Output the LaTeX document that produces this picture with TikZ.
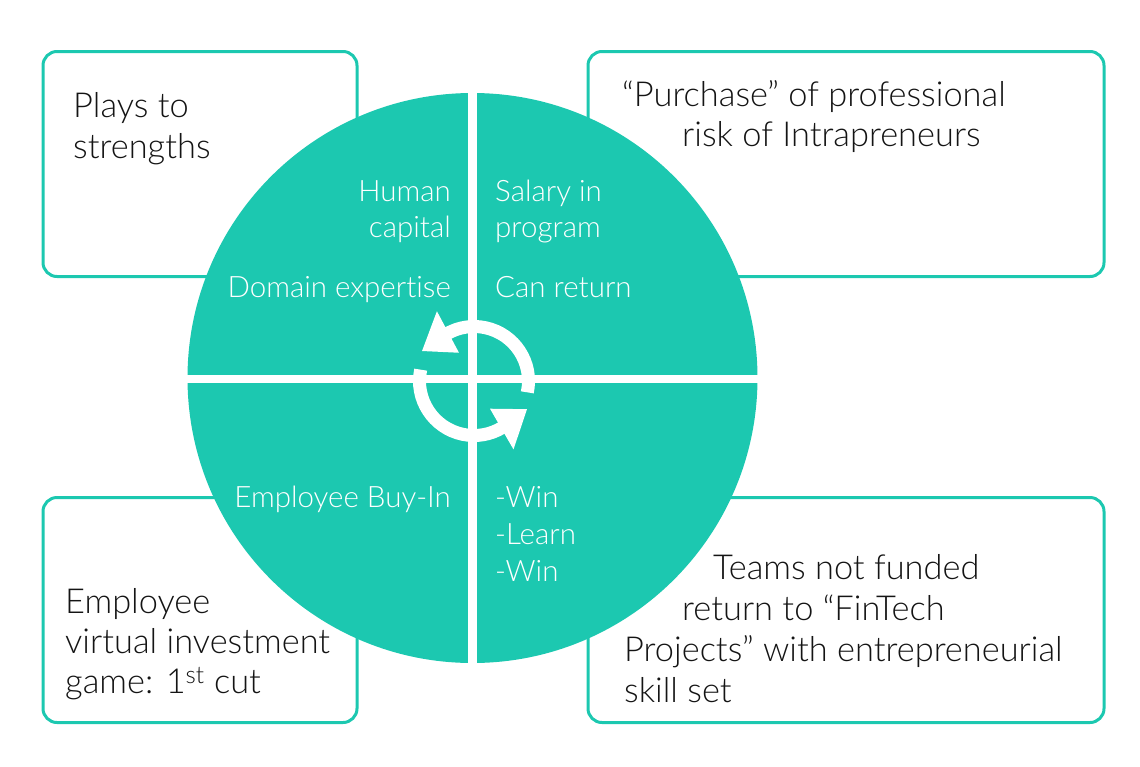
\documentclass[tikz,border=0pt]{standalone}
\usepackage{fontspec}
\setmainfont{Lato Light}[Ligatures=NoCommon]
\definecolor{teal1}{RGB}{28,200,176}
\definecolor{txt}{RGB}{20,20,20}
\tikzset{
  box/.style={draw=teal1, line width=3pt, rounded corners=14pt, fill=white, inner sep=0pt},
  btxt/.style={font=\fontsize{34.4}{41}\selectfont, text=txt, inner sep=0pt},
  ctxt/.style={font=\fontsize{29.5}{36}\selectfont, text=white, inner sep=0pt},
  ringarc/.style={draw=white, line width=13pt},
  ringhead/.style={fill=white},
  crossline/.style={draw=white, line width=8.5pt},
}
\begin{document}
\begin{tikzpicture}[x=1pt,y=1pt]
\useasboundingbox (0,0) rectangle (1140,-766);
% boxes
\node[box, minimum width=314pt, minimum height=225pt] (tl) at (200,-164) {};
\node[box, minimum width=516pt, minimum height=225pt] (tr) at (846,-164) {};
\node[box, minimum width=314pt, minimum height=225pt] (bl) at (200,-610) {};
\node[box, minimum width=516pt, minimum height=225pt] (br) at (846,-610) {};
% disc
\node[circle, fill=teal1, minimum size=570pt, inner sep=0pt] (disc) at (472.5,-378) {};
\begin{scope}
  \clip (disc.center) circle (286);
  \draw[crossline] (472.5,-80) -- (472.5,-680);
  \draw[crossline] (170,-379) -- (780,-379);
\end{scope}
% cycle arrows
\coordinate (c) at (474,-381);
\draw[ringarc] ([shift={(-12:54.5)}]c) arc[start angle=-12, end angle=119, radius=54.5];
\fill[ringhead] ([shift={(118:79)}]c) -- ([shift={(118:32)}]c) -- ([shift={(150:60)}]c) -- cycle;
\draw[ringarc] ([shift={(168:54.5)}]c) arc[start angle=168, end angle=301, radius=54.5];
\fill[ringhead] ([shift={(300:79)}]c) -- ([shift={(300:32)}]c) -- ([shift={(332:60)}]c) -- cycle;
% circle texts
\node[ctxt, anchor=base east] (h1) at (451,-201) {Human};
\node[ctxt, anchor=base east] (h2) at (451,-237) {capital};
\node[ctxt, anchor=base east] (h3) at (451,-297) {Domain expertise};
\node[ctxt, anchor=base west] (s1) at (495,-201) {Salary in};
\node[ctxt, anchor=base west] (s2) at (495,-237) {program};
\node[ctxt, anchor=base west] (s3) at (495,-297) {Can return};
\node[ctxt, anchor=base east] (e1) at (451,-507) {Employee Buy-In};
\node[ctxt, anchor=base west] (w1) at (495,-507) {-Win};
\node[ctxt, anchor=base west] (w2) at (495,-544) {-Learn};
\node[ctxt, anchor=base west] (w3) at (495,-581) {-Win};
% box texts
\node[btxt, anchor=base west] (p1) at (73,-117) {Plays to};
\node[btxt, anchor=base west] (p2) at (73,-158) {strengths};
\node[btxt, anchor=base west] (q1) at (622,-106) {“Purchase” of professional};
\node[btxt, anchor=base west] (q2) at (682,-146) {risk of Intrapreneurs};
\node[btxt, anchor=base west] (v1) at (65,-613) {Employee};
\node[btxt, anchor=base west] (v2) at (65,-653) {virtual investment};
\node[btxt, anchor=base west] (v3) at (65,-693) {game: 1\textsuperscript{st} cut};
\node[btxt, anchor=base west] (t1) at (713,-579) {Teams not funded};
\node[btxt, anchor=base west] (t2) at (682,-620) {return to “FinTech};
\node[btxt, anchor=base west] (t3) at (624,-661) {Projects” with entrepreneurial};
\node[btxt, anchor=base west] (t4) at (624,-702) {skill set};
\end{tikzpicture}
\end{document}
